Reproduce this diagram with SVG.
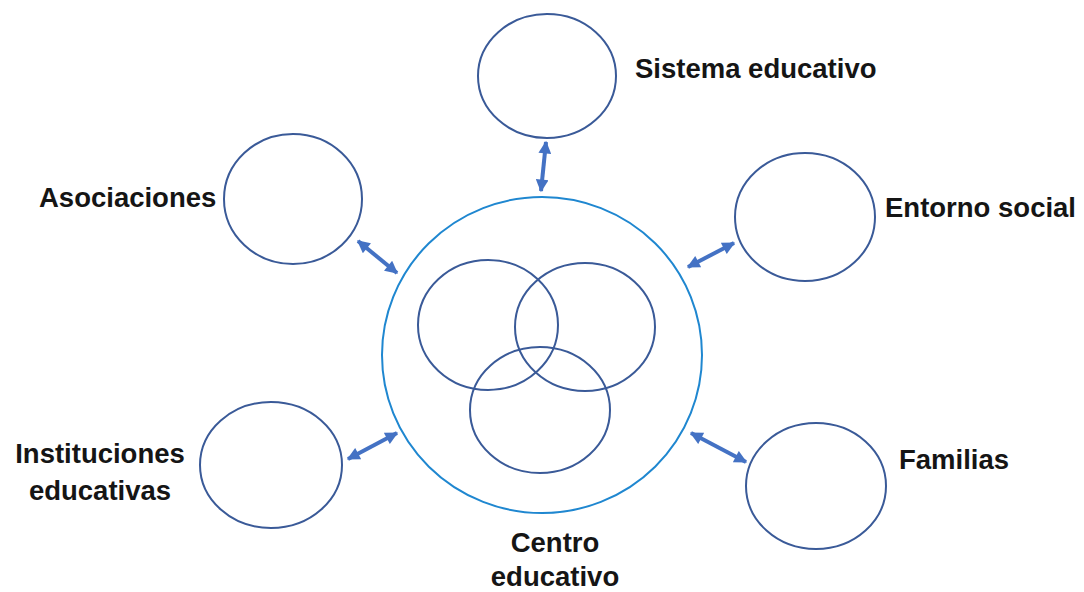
<svg xmlns="http://www.w3.org/2000/svg" width="1084" height="592" viewBox="0 0 1084 592">
<style>
.c{fill:none;stroke:#3A5A98;stroke-width:2}
.big{fill:none;stroke:#1F87D0;stroke-width:2}
.a{stroke:#4472C4;stroke-width:4;fill:none;marker-start:url(#h);marker-end:url(#h)}
text{font-family:"Liberation Sans",Arial,sans-serif;font-weight:bold;font-size:27.5px;fill:#151515}
</style>
<defs>
<marker id="h" viewBox="0 0 10 10" refX="9" refY="5" markerWidth="3.6" markerHeight="3.2" orient="auto-start-reverse" markerUnits="strokeWidth">
<path d="M0,0 L10,5 L0,10 Z" fill="#4472C4"/>
</marker>
</defs>
<rect width="1084" height="592" fill="#fff"/>
<g id="centro">
<ellipse class="big" cx="542" cy="355" rx="160" ry="158"/>
<ellipse class="c" cx="488" cy="325" rx="70" ry="65"/>
<ellipse class="c" cx="585" cy="327" rx="70" ry="64"/>
<ellipse class="c" cx="540" cy="410" rx="70" ry="63"/>
<text x="555" y="552" text-anchor="middle">Centro</text>
<text x="555" y="586" text-anchor="middle">educativo</text>
</g>
<g id="sistema">
<ellipse class="c" cx="547" cy="76" rx="69" ry="62"/>
<text x="635" y="78">Sistema educativo</text>
</g>
<g id="asociaciones">
<ellipse class="c" cx="293" cy="199" rx="69" ry="65"/>
<text x="39" y="207">Asociaciones</text>
</g>
<g id="entorno">
<ellipse class="c" cx="805" cy="217" rx="70" ry="64"/>
<text x="885" y="217">Entorno social</text>
</g>
<g id="instituciones">
<ellipse class="c" cx="271" cy="465" rx="71" ry="63"/>
<text x="100" y="463" text-anchor="middle">Instituciones</text>
<text x="100" y="500" text-anchor="middle">educativas</text>
</g>
<g id="familias">
<ellipse class="c" cx="816" cy="486" rx="70" ry="63"/>
<text x="899" y="469">Familias</text>
</g>
<g id="connectors">
<line class="a" x1="546" y1="142" x2="541" y2="191"/>
<line class="a" x1="358" y1="241" x2="397" y2="273"/>
<line class="a" x1="734" y1="243" x2="688" y2="267"/>
<line class="a" x1="397" y1="433" x2="348" y2="459"/>
<line class="a" x1="691" y1="433" x2="746" y2="462"/>
</g>
</svg>
